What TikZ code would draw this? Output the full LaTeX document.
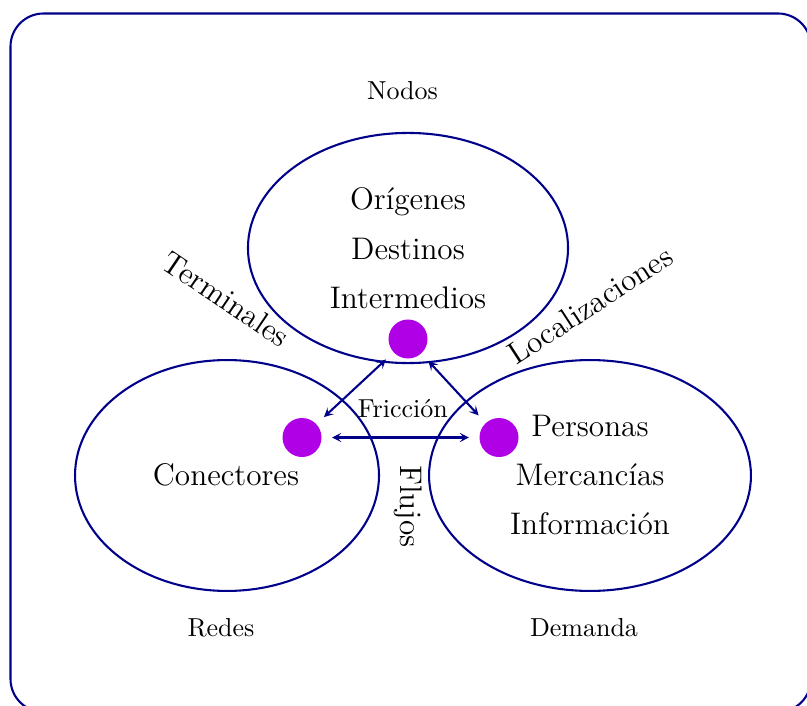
\documentclass[tikz,border=0pt]{standalone}
\usetikzlibrary{shapes.geometric,arrows.meta}
\definecolor{navyline}{RGB}{0,0,139}
\definecolor{dotcol}{RGB}{176,0,230}
\begin{document}
\begin{tikzpicture}[x=0.3846pt,y=-0.3846pt,
  frame/.style={draw=navyline,line width=0.8pt,rounded corners=12.7pt},
  region/.style={draw=navyline,line width=0.8pt,ellipse,inner sep=0pt},
  dotnode/.style={circle,fill=dotcol,minimum size=15pt,inner sep=0pt},
  bigtext/.style={font=\large,anchor=base,inner sep=0pt},
  smalltext/.style={font=\normalsize,anchor=base,inner sep=0pt},
  arr/.style={draw=navyline,line width=0.8pt,{Stealth[length=3.6pt,width=3.6pt,inset=1.6pt]}-{Stealth[length=3.6pt,width=3.6pt,inset=1.6pt]},shorten >=3.85pt,shorten <=3.85pt}]
\useasboundingbox (0,0) rectangle (807,706);
\clip (0,0) rectangle (807,706);
\draw[frame] (10.5,13.5) rectangle (811,712);
% regions
\node[region,minimum width=123.1pt,minimum height=88.5pt] (top) at (408,248) {};
\node[region,minimum width=116.9pt,minimum height=88.8pt] (left) at (227,475.5) {};
\node[region,minimum width=123.8pt,minimum height=88.8pt] (right) at (590,475.5) {};
% texts in regions
\node[bigtext] (t1) at (408,210) {Orígenes};
\node[bigtext] (t2) at (408,259.3) {Destinos};
\node[bigtext] (t3) at (408,308.3) {Intermedios};
\node[bigtext] (l1) at (226,485.7) {Conectores};
\node[bigtext] (r1) at (590,436.7) {Personas};
\node[bigtext] (r2) at (590,485.7) {Mercancías};
\node[bigtext] (r3) at (590,534.7) {Información};
% outer labels
\node[smalltext] (nodos) at (402.5,99.3) {Nodos};
\node[smalltext] (redes) at (221,636) {Redes};
\node[smalltext] (demanda) at (584,636) {Demanda};
\node[smalltext] (friccion) at (402.8,417.3) {Fricción};
\node[font=\large,inner sep=0pt,rotate=-34] (term) at (226,299) {Terminales};
\node[font=\large,inner sep=0pt,rotate=33] (loc) at (590,305) {Localizaciones};
\node[bigtext,rotate=-90] (flujos) at (400,506.5) {Flujos};
% dots
\node[dotnode] (dt) at (408,339) {};
\node[dotnode] (dl) at (302,437.5) {};
\node[dotnode] (dr) at (499,437.5) {};
% arrows
\draw[arr] (dt) -- (dl);
\draw[arr] (dt) -- (dr);
\draw[arr] (dl) -- (dr);
\end{tikzpicture}
\end{document}
